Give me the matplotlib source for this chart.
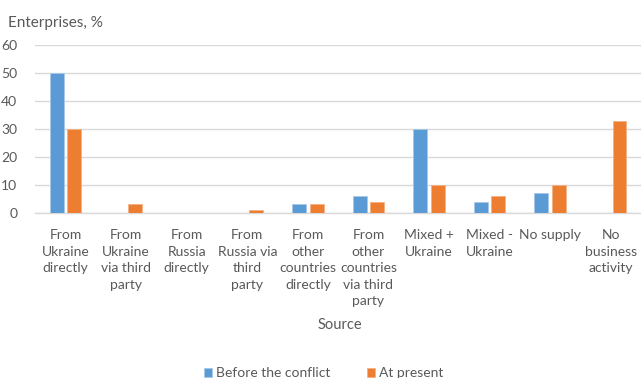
import matplotlib

matplotlib.use('Agg')

import numpy as np
import matplotlib.pyplot as plt

plt.rcParams['font.family'] = ['Lato', 'DejaVu Sans']

categories = [
    "From\nUkraine\ndirectly",
    "From\nUkraine\nvia third\nparty",
    "From\nRussia\ndirectly",
    "From\nRussia via\nthird\nparty",
    "From\nother\ncountries\ndirectly",
    "From\nother\ncountries\nvia third\nparty",
    "Mixed +\nUkraine",
    "Mixed -\nUkraine",
    "No supply",
    "No\nbusiness\nactivity",
]
before = [50, 0, 0, 0, 3, 6, 30, 4, 7, 0]
present = [30, 3, 0, 1, 3, 4, 10, 6, 10, 33]

blue = "#5b9bd5"
orange = "#ed7d31"
grey = "#595959"

fig = plt.figure(figsize=(6.41, 3.78), dpi=100)
ax = fig.add_axes([0.055, 0.437, 0.945, 0.444])

x = np.arange(len(categories))
w = 0.23
ax.bar(x - 0.145, before, w, color=blue, edgecolor="#a9c8e8", linewidth=0.6,
       label="Before the conflict", zorder=3)
ax.bar(x + 0.145, present, w, color=orange, edgecolor="#f4b184", linewidth=0.6,
       label="At present", zorder=3)

ax.set_xlim(-0.5, len(categories) - 0.5)
ax.set_ylim(0, 60)
ax.set_yticks(range(0, 61, 10))
ax.yaxis.grid(True, color="#d9d9d9", linewidth=1, zorder=0)
for s in ["top", "right", "left"]:
    ax.spines[s].set_visible(False)
ax.spines["bottom"].set_color("#d9d9d9")
ax.spines["bottom"].set_linewidth(1)
ax.tick_params(axis="both", length=0, colors=grey, labelsize=10)
ax.tick_params(axis="y", pad=13)
ax.set_xticks(x)
ax.set_xticklabels(categories, va="top", linespacing=1.45)
ax.tick_params(axis="x", pad=12)

fig.text(0.012, 0.94, "Enterprises, %", color=grey, fontsize=11, va="center")
fig.text(0.53, 0.14, "Source", color=grey, fontsize=10.5, ha="center", va="center")

handles, labels = ax.get_legend_handles_labels()
fig.legend(handles, labels, loc="center", bbox_to_anchor=(0.505, 0.012), ncol=2,
           frameon=False, fontsize=10, labelcolor=grey, handlelength=0.6,
           handleheight=0.6, handletextpad=0.3, columnspacing=2.6)

fig.savefig("out.png", dpi=100)
